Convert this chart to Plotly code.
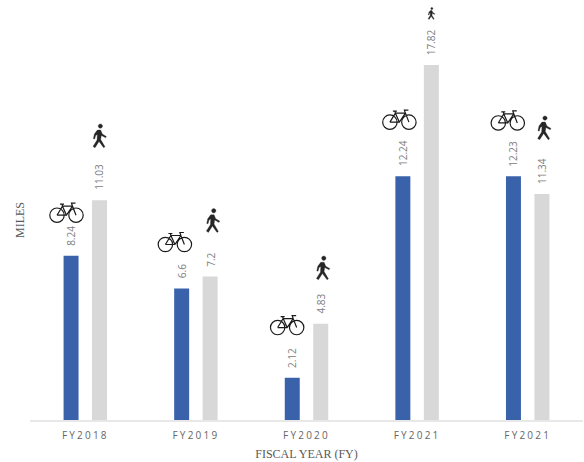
import plotly.graph_objects as go

fiscal_years = ["FY2018", "FY2019", "FY2020", "FY2021", "FY2021"]
bike_miles = [8.24, 6.6, 2.12, 12.24, 12.23]
walk_miles = [11.03, 7.2, 4.83, 17.82, 11.34]

# Icon centres in axis units, with a size factor for each walker
bike_x = [-0.17, -0.19, -0.175, -0.16, -0.18]
bike_y = [10.43, 8.96, 4.79, 15.1, 15.06]
walk_x = [0.13, 0.155, 0.15, 0.13, 0.15]
walk_y = [14.25, 10.0, 7.62, 20.4, 14.65]
walk_scale = [1, 1, 1, 0.5, 1]

positions = list(range(len(fiscal_years)))
BAR_OFFSET = 0.129
LABEL_COLOR = "#808080"


def circle(cx, cy, r):
    k = 0.5523 * r
    return (
        f"M{cx - r},{cy} C{cx - r},{cy + k} {cx - k},{cy + r} {cx},{cy + r} "
        f"C{cx + k},{cy + r} {cx + r},{cy + k} {cx + r},{cy} "
        f"C{cx + r},{cy - k} {cx + k},{cy - r} {cx},{cy - r} "
        f"C{cx - k},{cy - r} {cx - r},{cy - k} {cx - r},{cy} Z "
    )


def polyline(points, close=False):
    text = "M" + " L".join(f"{x:.2f},{y:.2f}" for x, y in points)
    return text + (" Z " if close else " ")


def bike_path():
    path = circle(-9.5, -3, 7.2) + circle(9.5, -3, 7.2)
    path += polyline([(-9.5, -3), (-4, 6), (6, 6), (9.5, -3)])
    path += polyline([(-9.5, -3), (0, -3), (6, 6)])
    path += polyline([(-4, 6), (0, -3)])
    path += polyline([(-6.5, 8), (-2.5, 8)])
    path += polyline([(-4.5, 8), (-4, 6)])
    path += polyline([(6, 6), (5, 9), (9, 9)])
    return path


def walker_path(scale):
    outline = [
        (201, 60), (211, 60), (216, 72), (228, 79), (226, 83), (213, 76),
        (211, 88), (224, 110), (220, 113), (206, 94), (194, 113), (188, 109),
        (200, 90), (201, 73), (196, 76), (193, 87), (189, 86), (192, 72),
    ]
    body = [((x - 208) / 3 * scale, (78 - y) / 3 * scale) for x, y in outline]
    return circle(0.7 * scale, 10 * scale, 2.2 * scale) + polyline(body, close=True)


fig = go.Figure()
fig.add_bar(x=positions, y=bike_miles, name="Bike", marker_color="#3a62ab", marker_line_width=0)
fig.add_bar(x=positions, y=walk_miles, name="Walk", marker_color="#d8d8d8", marker_line_width=0)

# Rotated value labels above each bar
annotations = []
for i in positions:
    for offset, values in ((-BAR_OFFSET, bike_miles), (BAR_OFFSET, walk_miles)):
        annotations.append(dict(
            x=i + offset, y=values[i], text=str(values[i]), textangle=-90,
            showarrow=False, xanchor="center", yanchor="bottom", yshift=8,
            font=dict(family="Open Sans", size=10, color=LABEL_COLOR),
        ))
annotations.append(dict(
    xref="paper", yref="paper", x=-10 / 553, y=200 / 420, text="MILES", textangle=-90,
    showarrow=False, xanchor="center", yanchor="middle",
    font=dict(family="Liberation Serif", size=12, color="#595959"),
))

shapes = []
for i in positions:
    shapes.append(dict(
        type="path", xsizemode="pixel", ysizemode="pixel",
        xanchor=i + bike_x[i], yanchor=bike_y[i], path=bike_path(),
        line=dict(color="#1a1a1a", width=1.2), fillcolor="rgba(0,0,0,0)",
    ))
    shapes.append(dict(
        type="path", xsizemode="pixel", ysizemode="pixel",
        xanchor=i + walk_x[i], yanchor=walk_y[i], path=walker_path(walk_scale[i]),
        line=dict(color="#262626", width=0.3), fillcolor="#262626",
    ))

fig.update_layout(
    width=584, height=462, margin=dict(l=30, r=1, t=0, b=42),
    plot_bgcolor="white", paper_bgcolor="white", showlegend=False,
    barmode="group", bargap=0.485, bargroupgap=0.474,
    shapes=shapes, annotations=annotations,
    xaxis=dict(
        range=[-0.5, 4.5], tickmode="array", tickvals=positions, ticktext=fiscal_years,
        showgrid=False, zeroline=False, showline=True, linecolor="#e8e8e8", linewidth=2,
        ticks="", ticklabelstandoff=5, tickfont=dict(family="Open Sans", size=10, color="#666666"),
        title=dict(text="FISCAL YEAR (FY)", standoff=9,
                   font=dict(family="Liberation Serif", size=12, color="#595959")),
    ),
    yaxis=dict(range=[0, 21.08], showgrid=False, zeroline=False, showticklabels=False, ticks=""),
)

# Wide tracking on the fiscal-year tick labels
spacing = "document.querySelectorAll('.xtick text').forEach(t => t.style.letterSpacing = '2.2px');"
fig.write_html("out.html", post_script=spacing)
